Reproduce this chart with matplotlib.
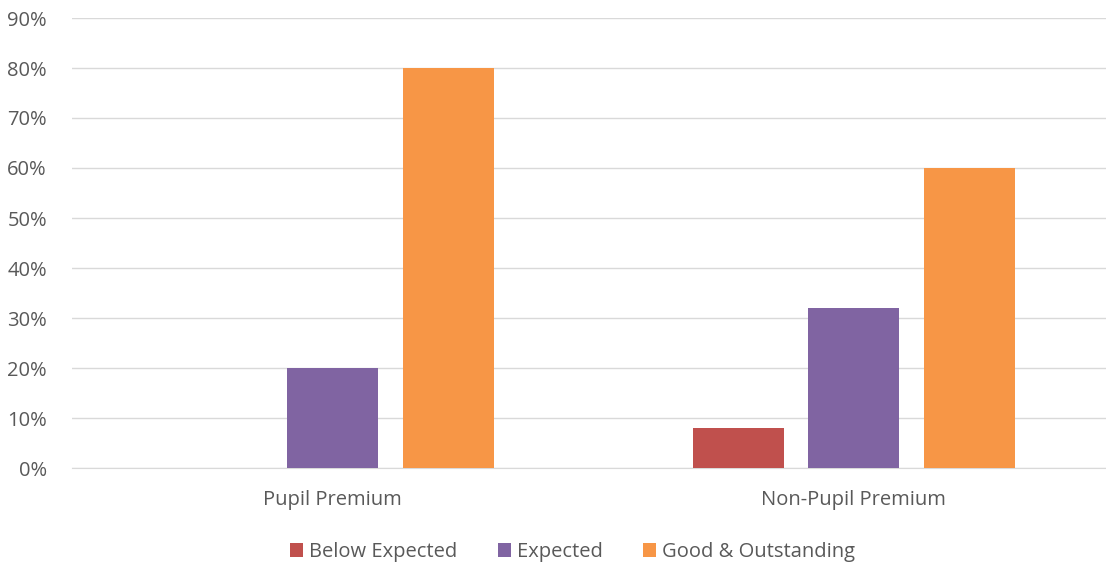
import matplotlib
matplotlib.use("Agg")
import matplotlib.pyplot as plt
import numpy as np
from matplotlib.ticker import PercentFormatter

categories = ["Pupil Premium", "Non-Pupil Premium"]
series_names = ["Below Expected", "Expected", "Good & Outstanding"]
below_expected = [0.0, 0.08]
expected = [0.20, 0.32]
good_outstanding = [0.80, 0.60]
colors = ["#C0504D", "#8064A2", "#F79646"]

plt.rcParams["font.family"] = ["Open Sans", "DejaVu Sans"]

W, H = 1106, 569
fig = plt.figure(figsize=(W / 100, H / 100), dpi=100)
# axes spans from the first gridline pixel to the right edge
ax_left, ax_right = 72, 1106
ax_bottom, ax_top = 468, 18
ax = fig.add_axes([ax_left / W, (H - ax_bottom) / H,
                   (ax_right - ax_left) / W, (ax_bottom - ax_top) / H])

x = np.arange(len(categories))
px_per_cat = 521
bar_width = 91 / px_per_cat
step = 115.5 / px_per_cat
for i, (name, vals) in enumerate(zip(series_names, [below_expected, expected, good_outstanding])):
    ax.bar(x + (i - 1) * step, vals, bar_width, color=colors[i], label=name, zorder=3)

ax.set_xlim(-0.5, -0.5 + (ax_right - ax_left) / px_per_cat)
ax.set_ylim(0, 0.9)
ax.set_yticks(np.arange(0, 0.91, 0.1))
ax.yaxis.set_major_formatter(PercentFormatter(1.0, decimals=0))
ax.set_xticks(x)
ax.set_xticklabels(categories)

ax.grid(axis="y", color="#D9D9D9", linewidth=1, zorder=0)
for side in ["top", "right", "left"]:
    ax.spines[side].set_visible(False)
ax.spines["bottom"].set_color("#D9D9D9")
ax.tick_params(axis="both", length=0, colors="#595959", labelsize=14.5)
ax.tick_params(axis="x", pad=16)
ax.tick_params(axis="y", pad=18)

leg = ax.legend(loc="center", bbox_to_anchor=(0.484, -0.187), ncol=3, frameon=False,
                handlelength=0.65, handleheight=0.65, handletextpad=0.3, columnspacing=2.0,
                fontsize=14.5)
for t in leg.get_texts():
    t.set_color("#595959")

fig.savefig("out.png", dpi=100)
